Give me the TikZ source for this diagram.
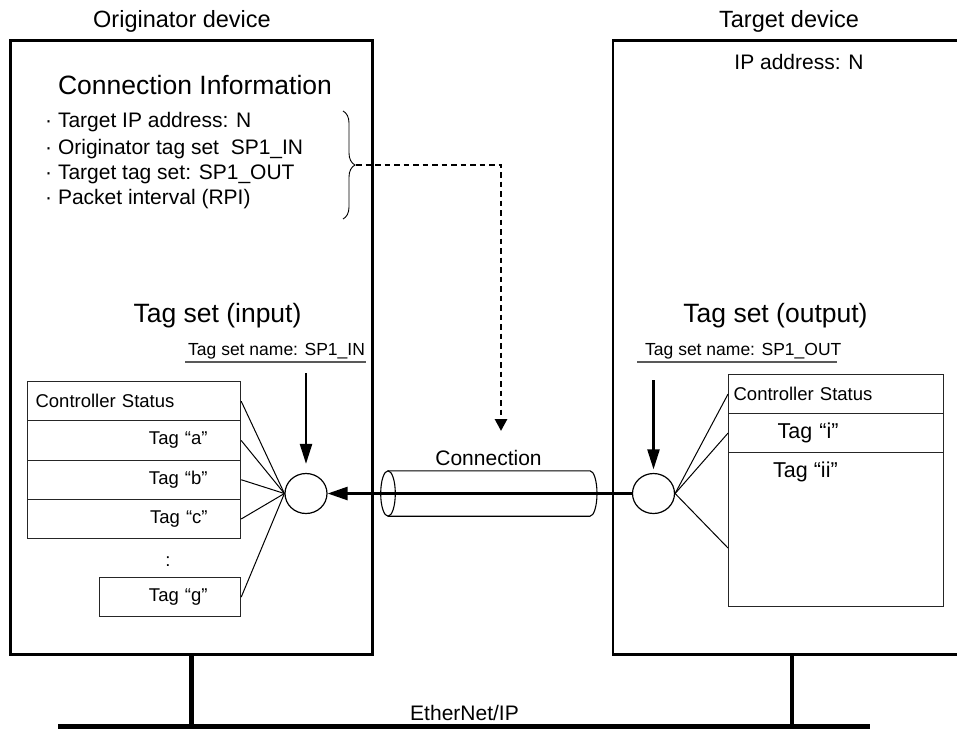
\documentclass[tikz,border=0pt]{standalone}
\usepackage{fontspec}
\setmainfont{Liberation Sans}
\usetikzlibrary{arrows.meta,shapes.geometric,decorations.pathreplacing}
\newcommand\fsz[1]{\fontsize{#1}{#1}\selectfont}
\begin{document}
\begin{tikzpicture}[x=1pt,y=-1pt,
  lbl/.style={inner sep=0pt, anchor=base},
  lblw/.style={inner sep=0pt, anchor=base west},
  devbox/.style={draw, line width=2.8pt, anchor=north west, minimum height=613.8pt, inner sep=0pt},
  tblrow/.style={draw=black!85, line width=1.2pt, anchor=north west, minimum width=213pt, minimum height=39.25pt, inner ysep=0pt, font=\fsz{18.5}},
  fan/.style={line width=1pt},
  joint/.style={ellipse, draw, line width=1.2pt, minimum width=42pt, minimum height=40pt, inner sep=0pt},
  downarrow/.style={line width=2.3pt, -{Triangle[length=20pt,width=12pt]}},
  connarrow/.style={line width=2.6pt, -{Triangle[length=20pt,width=13pt]}},
  dasharrow/.style={line width=2.8pt, dash pattern=on 5.5pt off 4pt, -{Triangle[length=12pt,width=12pt]}},
  cyl/.style={line width=1.1pt},
  ul/.style={draw=black!65, line width=1.3pt},
  bus/.style={line width=5pt},
  drop/.style={line width=4.5pt}]
\useasboundingbox (0,0) rectangle (957,729);
\clip (0,0) rectangle (957,729);

% device boxes
\node[devbox, minimum width=361.7pt] (orig) at (9.3,39.2) {};
\node[devbox, minimum width=358.5pt] (tgt) at (611.5,39.2) {};
\node[lbl, font=\fsz{23.5}] (origlbl) at (182,27.3) {Originator device};
\node[lbl, font=\fsz{23.5}] (tgtlbl) at (789,27.3) {Target device};
\node[lbl, font=\fsz{21}] (ipaddr) at (799,69) {IP address: N};

% connection information
\node[lbl, font=\fsz{26.5}] (cinfo) at (195,94.3) {Connection Information};
\node[lblw, font=\fsz{21}] (b1) at (45,127.7) {· Target IP address: N};
\node[lblw, font=\fsz{21}] (b2) at (45,154) {· Originator tag set\ \ SP1\_IN};
\node[lblw, font=\fsz{21}] (b3) at (45,179.3) {· Target tag set: SP1\_OUT};
\node[lblw, font=\fsz{21}] (b4) at (45,204.3) {· Packet interval (RPI)};
\draw[decorate, decoration={brace, amplitude=12pt}, line width=0.9pt] (343,111) -- (343,219);
\coordinate (bt) at (356,165);
\coordinate (dtip) at (501,431);
\draw[dasharrow] (bt) -| (dtip);

% tag set headings
\node[lbl, font=\fsz{26.5}] (tsin) at (217.5,322.3) {Tag set (input)};
\node[lbl, font=\fsz{26.5}] (tsout) at (775.5,322.3) {Tag set (output)};
\node[lblw, font=\fsz{17.5}] (tsnin) at (188,355) {Tag set name: SP1\_IN};
\node[lblw, font=\fsz{17.5}] (tsnout) at (645,355) {Tag set name: SP1\_OUT};
\coordinate (ulina) at (185,362);
\coordinate (ulinb) at (366,362);
\coordinate (uloua) at (637,362);
\coordinate (uloub) at (837,362);
\draw[ul] (ulina) -- (ulinb);
\draw[ul] (uloua) -- (uloub);

% input tag table
\node[tblrow, inner xsep=8pt, text width=197pt, align=left] (cs1) at (27,381) {Controller Status};
\node[tblrow, inner xsep=33pt, text width=147pt, align=right] (ta) at (27,420.25) {Tag “a”};
\node[tblrow, inner xsep=33pt, text width=147pt, align=right] (tb) at (27,459.5) {Tag “b”};
\node[tblrow, inner xsep=33pt, text width=147pt, align=right] (tc) at (27,498.75) {Tag “c”};
\node[lbl, font=\fsz{18.5}] (dots) at (168,566) {:};
\node[tblrow, minimum width=141pt, minimum height=39pt, inner xsep=33pt, text width=75pt, align=right] (tg) at (99,577) {Tag “g”};

% output tag table
\node[tblrow, minimum width=215pt, minimum height=39pt, inner xsep=5pt, text width=205pt, align=left] (cs2) at (728,374) {Controller Status};
\node[tblrow, minimum width=215pt, minimum height=39pt, inner xsep=49pt, text width=117pt, align=left, font=\fsz{21.5}] (ti) at (728,413) {Tag “i”};
\node[tblrow, minimum width=215pt, minimum height=154pt] (tii) at (728,452) {};
\node[lblw, font=\fsz{21.5}] (tiitxt) at (773,477) {Tag “ii”};
\coordinate (fanend) at (728,548);

% joints
\node[joint] (lc) at (306,493.5) {};
\node[joint] (rc) at (653.5,493.5) {};

% fan lines
\draw[fan] (cs1.east) -- (lc.west);
\draw[fan] (ta.east) -- (lc.west);
\draw[fan] (tb.east) -- (lc.west);
\draw[fan] (tc.east) -- (lc.west);
\draw[fan] (tg.east) -- (lc.west);
\draw[fan] (rc.east) -- (cs2.west);
\draw[fan] (rc.east) -- (ti.west);
\draw[fan] (rc.east) -- (fanend);

% down arrows
\coordinate (lin) at (306,373);
\coordinate (rin) at (653.5,380);
\draw[downarrow, shorten >=9pt] (lin) -- (lc.north);
\draw[downarrow, shorten >=3.5pt] (rin) -- (rc.north);

% connection cylinder
\draw[cyl] (388,493.5) ellipse [x radius=7.3pt, y radius=22.7pt];
\draw[cyl] (388,470.8) -- (590,470.8) arc[start angle=90, end angle=-90, x radius=7pt, y radius=22.7pt] -- (388,516.2);
\node[lbl, font=\fsz{21}] (connlbl) at (488.5,465) {Connection};
\draw[connarrow] (rc.west) -- (lc.east);

% EtherNet/IP
\coordinate (busL) at (58,726.5);
\coordinate (busR) at (870,726.5);
\draw[bus] (busL) -- (busR);
\draw[drop] (orig.south) -- (orig.south |- busL);
\draw[drop] (tgt.south) -- (tgt.south |- busL);
\node[lbl, font=\fsz{21}] (eth) at (464.5,720) {EtherNet/IP};
\end{tikzpicture}
\end{document}
